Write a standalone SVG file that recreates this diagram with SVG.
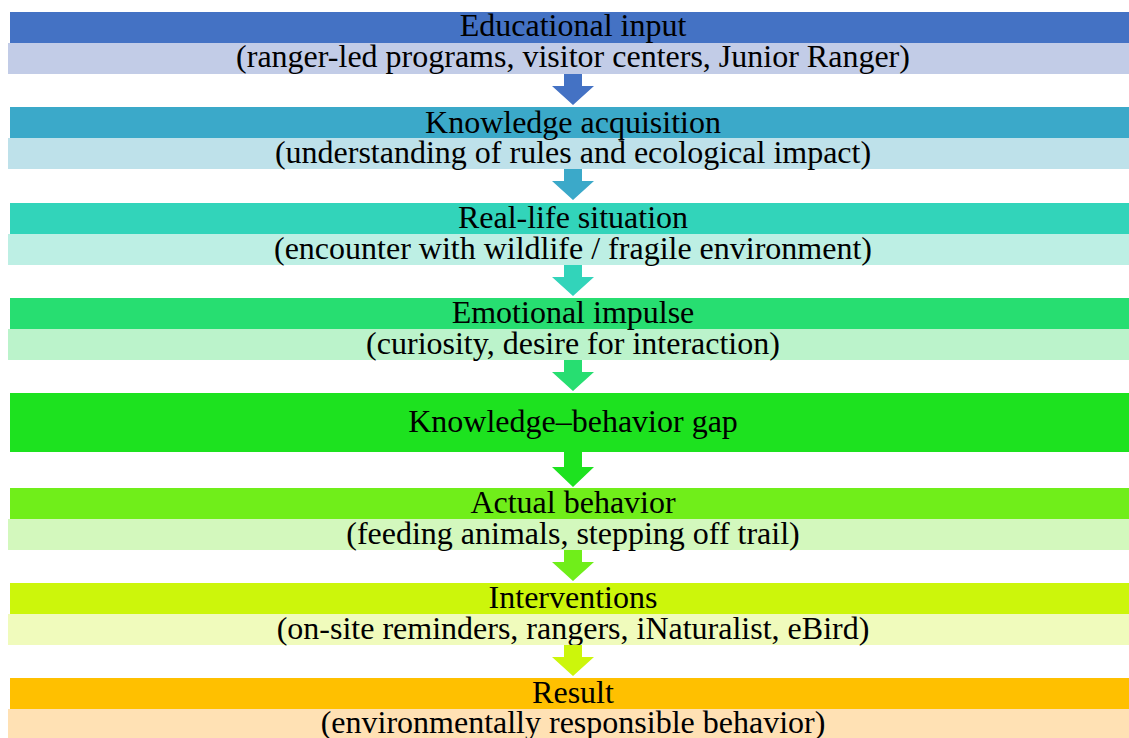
<svg xmlns="http://www.w3.org/2000/svg" width="1129" height="738" viewBox="0 0 1129 738">
<style>
text{font-family:"Liberation Serif","Times New Roman",serif;font-size:32px;fill:#000;text-anchor:middle}
</style>
<defs>
<path id="arr" d="M-9,0 H9 V12 H21 L0,31 L-21,12 H-9 Z"/>
</defs>
<rect width="1129" height="738" fill="#fff"/>
<g id="n1" font-family="Liberation Serif, serif">
<rect x="10" y="12" width="1119" height="31" fill="#4472C4"/>
<rect x="8" y="43" width="1121" height="31" fill="#C2CCE7"/>
<text x="573" y="36">Educational input</text>
<text x="573" y="67">(ranger-led programs, visitor centers, Junior Ranger)</text>
</g>
<g id="n2" font-family="Liberation Serif, serif">
<rect x="10" y="107" width="1119" height="31" fill="#3BA9C9"/>
<rect x="8" y="138" width="1121" height="31" fill="#BEE1EA"/>
<text x="573" y="133">Knowledge acquisition</text>
<text x="573" y="163">(understanding of rules and ecological impact)</text>
</g>
<g id="n3" font-family="Liberation Serif, serif">
<rect x="10" y="203" width="1119" height="31" fill="#32D4BA"/>
<rect x="8" y="234" width="1121" height="31" fill="#BDEFE4"/>
<text x="573" y="228">Real-life situation</text>
<text x="573" y="259">(encounter with wildlife / fragile environment)</text>
</g>
<g id="n4" font-family="Liberation Serif, serif">
<rect x="10" y="298" width="1119" height="31" fill="#27DE71"/>
<rect x="8" y="329" width="1121" height="31" fill="#BBF3CB"/>
<text x="573" y="323">Emotional impulse</text>
<text x="573" y="354">(curiosity, desire for interaction)</text>
</g>
<g id="n5" font-family="Liberation Serif, serif">
<rect x="10" y="393" width="1119" height="59" fill="#1DE21F"/>
<text x="573" y="432">Knowledge–behavior gap</text>
</g>
<g id="n6" font-family="Liberation Serif, serif">
<rect x="10" y="488" width="1119" height="31" fill="#70EE1A"/>
<rect x="8" y="519" width="1121" height="31" fill="#D3F8BD"/>
<text x="573" y="513">Actual behavior</text>
<text x="573" y="544">(feeding animals, stepping off trail)</text>
</g>
<g id="n7" font-family="Liberation Serif, serif">
<rect x="10" y="583" width="1119" height="31" fill="#CCF60B"/>
<rect x="8" y="614" width="1121" height="31" fill="#F0FBBC"/>
<text x="573" y="608">Interventions</text>
<text x="573" y="639">(on-site reminders, rangers, iNaturalist, eBird)</text>
</g>
<g id="n8" font-family="Liberation Serif, serif">
<rect x="10" y="678" width="1119" height="31" fill="#FFC000"/>
<rect x="8" y="709" width="1121" height="31" fill="#FFE1B4"/>
<text x="573" y="703">Result</text>
<text x="573" y="733">(environmentally responsible behavior)</text>
</g>
<g id="connectors">
<use href="#arr" x="573" y="74" fill="#4472C4"/>
<use href="#arr" x="573" y="169" fill="#3BA9C9"/>
<use href="#arr" x="573" y="265" fill="#32D4BA"/>
<use href="#arr" x="573" y="360" fill="#27DE71"/>
<path d="M564,452 H582 V467 H594 L573,487 L552,467 H564 Z" fill="#1DE21F"/>
<use href="#arr" x="573" y="550" fill="#70EE1A"/>
<use href="#arr" x="573" y="645" fill="#CCF60B"/>
</g>
</svg>
